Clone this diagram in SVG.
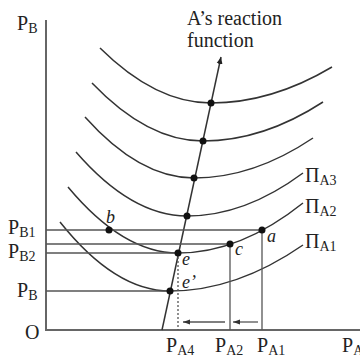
<svg xmlns="http://www.w3.org/2000/svg" width="360" height="359" viewBox="0 0 360 359">
<defs>
<marker id="ah" markerWidth="8" markerHeight="8" refX="7" refY="4" orient="auto" markerUnits="userSpaceOnUse">
<path d="M0,1 L7,4 L0,7 Z" fill="#222"/>
</marker>
<marker id="ah2" markerWidth="8" markerHeight="8" refX="7" refY="4" orient="auto" markerUnits="userSpaceOnUse">
<path d="M0,1.5 L7,4 L0,6.5 Z" fill="#333"/>
</marker>
<style>
.ax{stroke:#666;stroke-width:2;fill:none}
.cv{stroke:#333;stroke-width:1.5;fill:none}
.ln{stroke:#555;stroke-width:1.3;fill:none}
.dot{fill:#111}
.t{font-family:"Liberation Serif","Times New Roman",serif;fill:#222}
.m{font-size:20px}
.s{font-size:14px}
.it{font-style:italic;font-size:18px}
</style>
</defs>
<rect width="360" height="359" fill="#fff"/>
<g id="axes">
<line class="ax" x1="46" y1="20" x2="46" y2="331"/>
<line class="ax" x1="45" y1="330" x2="360" y2="330"/>
</g>
<g id="curves">
<path class="cv" d="M100,48 Q155.5,103 211,103 Q271.5,103 332,67"/>
<path class="cv" d="M92,83 Q147.5,141 203,141 Q263,141 323,102"/>
<path class="cv" d="M85,117 Q139.5,178 194,178 Q253.5,178 313,138"/>
<path class="cv" d="M76,152 Q131.5,216 187,216 Q245,216 303,173"/>
<path class="cv" d="M68,187 Q123,253 178,253 Q240.5,253 303,203"/>
<path class="cv" d="M60,222 Q115,291 170,291 Q236.5,291 303,245"/>
</g>
<g id="connectors">
<line class="cv" x1="162" y1="330" x2="221" y2="57" marker-end="url(#ah)"/>
<line class="ln" x1="46" y1="230" x2="262" y2="230"/>
<line class="ln" x1="46" y1="244" x2="230" y2="244"/>
<line class="ln" x1="46" y1="253" x2="178" y2="253"/>
<line class="ln" x1="46" y1="291" x2="170" y2="291"/>
<line class="ln" x1="230" y1="244" x2="230" y2="330"/>
<line class="ln" x1="262" y1="230" x2="262" y2="330"/>
<line class="ln" x1="178" y1="253" x2="178" y2="330" stroke-dasharray="2,2"/>
<line class="ln" x1="225" y1="322" x2="183" y2="322" marker-end="url(#ah2)"/>
<line class="ln" x1="258" y1="322" x2="233" y2="322" marker-end="url(#ah2)"/>
</g>
<g id="dots">
<circle class="dot" cx="211" cy="103" r="3.5"/>
<circle class="dot" cx="203" cy="141" r="3.5"/>
<circle class="dot" cx="194" cy="178" r="3.5"/>
<circle class="dot" cx="187" cy="216" r="3.5"/>
<circle class="dot" cx="178" cy="253" r="3.5"/>
<circle class="dot" cx="170" cy="291" r="3.5"/>
<circle class="dot" cx="109" cy="230" r="3.5"/>
<circle class="dot" cx="262" cy="230" r="3.5"/>
<circle class="dot" cx="230" cy="244" r="3.5"/>
</g>
<g id="labels">
<text class="t m" x="187" y="25">A’s reaction</text>
<text class="t m" x="187" y="47">function</text>
<text class="t m" x="17" y="30">P<tspan class="s" dy="3">B</tspan></text>
<text class="t m" x="8" y="234">P<tspan class="s" dy="3">B1</tspan></text>
<text class="t m" x="8" y="258">P<tspan class="s" dy="3">B2</tspan></text>
<text class="t m" x="17" y="297">P<tspan class="s" dy="3">B</tspan></text>
<text class="t m" x="25" y="339">O</text>
<text class="t m" x="166" y="352">P<tspan class="s" dy="3">A4</tspan></text>
<text class="t m" x="215" y="352">P<tspan class="s" dy="3">A2</tspan></text>
<text class="t m" x="257" y="352">P<tspan class="s" dy="3">A1</tspan></text>
<text class="t m" x="342" y="352">P<tspan class="s" dy="3">A</tspan></text>
<text class="t m" x="305" y="182" font-size="21">Π<tspan class="s" dy="3">A3</tspan></text>
<text class="t m" x="305" y="213" font-size="21">Π<tspan class="s" dy="3">A2</tspan></text>
<text class="t m" x="305" y="248" font-size="21">Π<tspan class="s" dy="3">A1</tspan></text>
<text class="t it" x="106" y="223">b</text>
<text class="t it" x="267" y="242">a</text>
<text class="t it" x="235" y="255">c</text>
<text class="t it" x="182" y="265">e</text>
<text class="t it" x="182" y="288">e’</text>
</g>
</svg>
